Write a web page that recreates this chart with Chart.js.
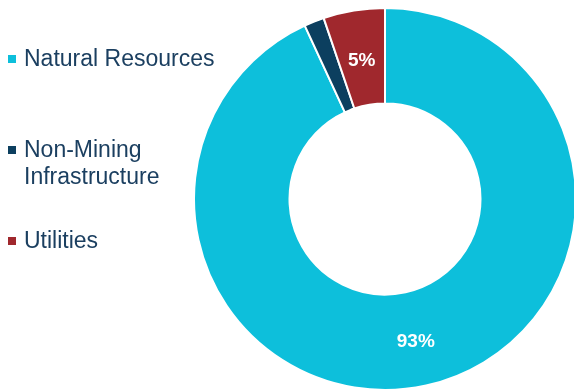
<!DOCTYPE html>
<html>
<head>
<meta charset="utf-8">
<script src="https://cdn.jsdelivr.net/npm/chart.js@4.4.1/dist/chart.umd.min.js"></script>
<style>
  html, body { margin: 0; padding: 0; background: #fff; overflow: hidden; }
  #wrap { position: relative; width: 600px; height: 391px; }
</style>
</head>
<body>
<div id="wrap"><canvas id="chart"></canvas></div>
<script>
// sector split
const sectors = ["Natural Resources", ["Non-Mining", "Infrastructure"], "Utilities"];
const shares = [93.1, 1.7, 5.2];
const colors = ["#0DBFDB", "#0C3F5F", "#A0282D"];

// where each legend row sits (baseline of its first line)
const legendBaselines = [66, 157, 248];

const sliceLabels = {
  id: "sliceLabels",
  afterDatasetsDraw(chart) {
    const { ctx } = chart;
    const meta = chart.getDatasetMeta(0);
    const total = shares.reduce((a, b) => a + b, 0);
    ctx.save();
    ctx.fillStyle = "#fff";
    ctx.font = "bold 19px 'Liberation Sans', Arial, sans-serif";
    ctx.textAlign = "center";
    ctx.textBaseline = "middle";
    meta.data.forEach((arc, i) => {
      const pct = Math.round(shares[i] / total * 100);
      if (pct < 3) return;
      const { x, y, startAngle, endAngle, innerRadius, outerRadius } = arc.getProps(
        ["x", "y", "startAngle", "endAngle", "innerRadius", "outerRadius"], true);
      const mid = (startAngle + endAngle) / 2;
      const r = innerRadius + (outerRadius - innerRadius) * 0.5;
      ctx.fillText(pct + "%", x + Math.cos(mid) * r, y + Math.sin(mid) * r + 3);
    });
    ctx.restore();
  }
};

const sideLegend = {
  id: "sideLegend",
  afterDraw(chart) {
    const { ctx } = chart;
    ctx.save();
    ctx.font = "23px 'Liberation Sans', Arial, sans-serif";
    ctx.textBaseline = "alphabetic";
    sectors.forEach((label, i) => {
      const lines = Array.isArray(label) ? label : [label];
      const base = legendBaselines[i];
      ctx.fillStyle = colors[i];
      ctx.fillRect(8, base - 11, 8, 8);
      ctx.fillStyle = "#1B3F60";
      lines.forEach((line, j) => ctx.fillText(line, 24, base + j * 27));
    });
    ctx.restore();
  }
};

new Chart(document.getElementById("chart"), {
  type: "doughnut",
  data: {
    labels: sectors,
    datasets: [{
      data: shares,
      backgroundColor: colors,
      borderColor: "#fff",
      borderWidth: 2,
      clip: false
    }]
  },
  options: {
    responsive: true,
    maintainAspectRatio: false,
    animation: false,
    cutout: "50%",
    layout: { padding: { left: 193, right: 23, top: 7, bottom: 0 } },
    plugins: {
      legend: { display: false },
      tooltip: { enabled: false }
    }
  },
  plugins: [sliceLabels, sideLegend]
});
</script>
</body>
</html>
